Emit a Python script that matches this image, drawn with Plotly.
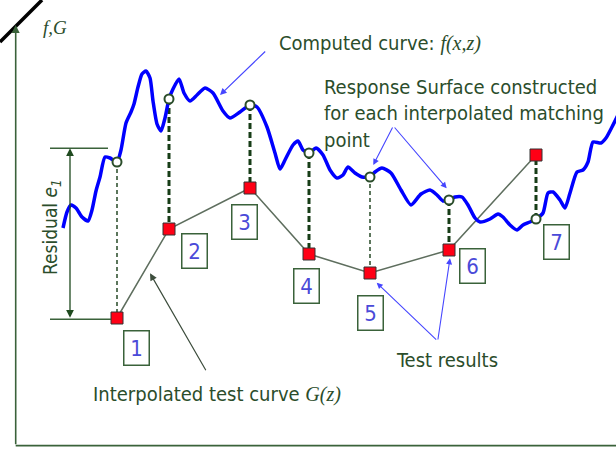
import plotly.graph_objects as go

# ---- data -------------------------------------------------------------
# interpolated matching points along z
z_match = [117, 169, 250, 309, 370, 449, 536]
# computed response f(x, z) at the matching points
f_match = [293, 356, 350, 302, 278, 255, 236]
# test results G(z) at the matching points
g_test = [137, 226, 267, 201, 182, 205, 300]
point_labels = ["1", "2", "3", "4", "5", "6", "7"]

# computed curve f(x, z)
z_curve = [63, 67, 71, 76, 82, 88, 92, 96, 100, 105, 110, 117, 121, 126, 131, 134,
           138, 142, 146, 150, 153, 157, 161, 165, 169, 173, 179, 184, 190, 197,
           205, 213, 223, 230, 240, 250, 257, 267, 275, 280, 285, 293, 298, 303,
           309, 316, 323, 330, 337, 343, 348, 355, 362, 370, 375, 382, 391, 401,
           411, 421, 430, 437, 443, 449, 455, 462, 468, 475, 480, 490, 498, 503,
           510, 517, 523, 530, 536, 543, 548, 553, 560, 565, 570, 577, 583, 588,
           593, 601, 606, 612, 618]
f_curve = [227, 243, 250, 247, 238, 234, 245, 264, 278, 298, 297, 293, 305, 332, 343, 351,
           368, 381, 384, 377, 354, 331, 324, 337, 356, 366, 376, 362, 354, 360,
           367, 362, 344, 337, 343, 350, 348, 328, 302, 286, 295, 310, 314, 305,
           302, 307, 300, 285, 277, 280, 288, 282, 278, 278, 283, 287, 282, 265,
           250, 261, 265, 260, 254, 255, 258, 258, 250, 237, 233, 236, 241, 238,
           230, 225, 230, 233, 236, 242, 262, 263, 255, 247, 262, 283, 285, 293,
           313, 312, 317, 328, 340]

# ---- styles -----------------------------------------------------------
W, H = 616, 455
TXT = "#2b4d2b"
FRAME = "#3a623a"
DASH = "#173d17"
GREY = "#5e6e5e"
BLUE = "#0000ff"
ARROW_BLUE = "#4646ff"
NUM_BLUE = "#4a4ad8"
SANS = "DejaVu Sans Condensed, DejaVu Sans, sans-serif"
SERIF = "Liberation Serif"
LABEL_SIZE = 20

# offsets (px) of the numbered boxes from their test points
box_dx = [19, 25, -6, -3, 0, 23, 20]
box_dy = [-30, -22, -34, -32, -40, -16, -87]
thin_links = {0, 4}

fig = go.Figure()

# vertical residual links between f and G at each matching point
for i, (z, f, g) in enumerate(zip(z_match, f_match, g_test)):
    thin = i in thin_links
    fig.add_trace(go.Scatter(
        x=[z, z], y=[f, g], mode="lines", hoverinfo="skip",
        line=dict(color=DASH, width=1.4 if thin else 3,
                  dash="4px,3px" if thin else "6px,3px")))

# interpolated test curve G(z)
fig.add_trace(go.Scatter(x=z_match, y=g_test, mode="lines",
                         line=dict(color=GREY, width=1.5), hoverinfo="skip"))

# computed curve f(x, z)
fig.add_trace(go.Scatter(x=z_curve, y=f_curve, mode="lines",
                         line=dict(color=BLUE, width=3.5, shape="spline", smoothing=0.6),
                         hoverinfo="skip"))

# response surface points on f
fig.add_trace(go.Scatter(x=z_match, y=f_match, mode="markers",
                         marker=dict(symbol="circle", size=9, color="white",
                                     line=dict(color=TXT, width=2)),
                         hoverinfo="skip"))

# test results
fig.add_trace(go.Scatter(x=z_match, y=g_test, mode="markers",
                         marker=dict(symbol="square", size=12, color="#ff0015",
                                     line=dict(color="#333333", width=1)),
                         hoverinfo="skip"))

ann = []

# numbered boxes
for i, (z, g, lab) in enumerate(zip(z_match, g_test, point_labels)):
    ann.append(dict(x=z, y=g, text=lab, showarrow=False,
                    xshift=box_dx[i], yshift=box_dy[i],
                    width=24, height=33, borderpad=0, borderwidth=1.5,
                    bordercolor=FRAME, bgcolor="white",
                    font=dict(family=SANS, size=22, color=NUM_BLUE)))

def text(x, y, s, size=LABEL_SIZE, xanchor="left", **kw):
    ann.append(dict(x=x, y=y, text=s, showarrow=False, xanchor=xanchor,
                    yanchor="middle", borderpad=0,
                    font=dict(family=SANS, size=size, color=TXT), **kw))

def arrow(x0, y0, x1, y1, color, width=1.2, head=2, size=1.0, side="end"):
    ann.append(dict(x=x1, y=y1, ax=x0, ay=y0, xref="x", yref="y", axref="x", ayref="y",
                    text="", showarrow=True, arrowhead=head, arrowsize=size,
                    arrowwidth=width, arrowcolor=color, arrowside=side,
                    standoff=0, startstandoff=0))

# axis with arrow
arrow(15.7, 9.3, 15.7, 430, FRAME, width=1.6, head=2, size=1.0)
text(55, 428, '<i>f,G</i>', size=19, xanchor="center")
ann[-1]["font"]["family"] = SERIF

# residual marker
arrow(70, 135.7, 70, 306.7, "#1f4a1f", width=1.3, head=2, size=1.2, side="end+start")
text(51, 228, 'Residual <i>e</i><sub><i>1</i></sub>', size=19, xanchor="center", textangle=-90)

# labels
text(277.7, 412, 'Computed curve: <span style="font-family:Liberation Serif"><i>f(x,z)</i></span>')
arrow(266.7, 405, 220, 360, ARROW_BLUE, width=1.2, head=2, size=1.1)

text(322.7, 368.3, "Response Surface constructed")
text(322.7, 341.7, "for each interpolated matching")
text(322.7, 315, "point")
arrow(393.3, 329, 373.3, 290, ARROW_BLUE, width=1.1, head=2, size=1.1)
arrow(393.3, 329, 446.7, 266.7, ARROW_BLUE, width=1.1, head=2, size=1.1)

text(395, 95, "Test results")
arrow(437.7, 114, 376.7, 172.3, ARROW_BLUE, width=1.1, head=2, size=1.1)
arrow(437.7, 114, 450, 196.7, ARROW_BLUE, width=1.1, head=2, size=1.1)

text(91.7, 60.7, 'Interpolated test curve <span style="font-family:Liberation Serif"><i>G(z)</i></span>')
arrow(206.7, 83.3, 150, 181.7, "#3d4d3d", width=1.2, head=2, size=1.2)

shapes = [
    # bottom frame line
    dict(type="line", x0=15.7, y0=9.3, x1=616, y1=9.3, line=dict(color=FRAME, width=1.8)),
    # residual bounds
    dict(type="line", x0=50, y0=306.7, x1=108, y1=306.7, line=dict(color=FRAME, width=1.5)),
    dict(type="line", x0=50, y0=135.7, x1=111, y1=135.7, line=dict(color=FRAME, width=1.5)),
    # corner stroke
    dict(type="line", x0=0, y0=413, x1=42, y1=455, line=dict(color="black", width=3.5)),
]

fig.update_layout(
    width=W, height=H, margin=dict(l=0, r=0, t=0, b=0),
    paper_bgcolor="white", plot_bgcolor="white", showlegend=False,
    xaxis=dict(range=[0, W], visible=False, fixedrange=True),
    yaxis=dict(range=[0, H], visible=False, fixedrange=True),
    annotations=ann, shapes=shapes,
)

fig.write_html("out.html")
